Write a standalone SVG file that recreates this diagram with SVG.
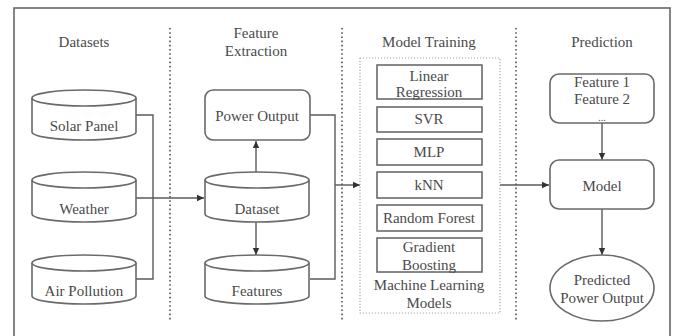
<svg xmlns="http://www.w3.org/2000/svg" width="675" height="336" viewBox="0 0 675 336">
<style>
.t{font-family:'Liberation Serif','DejaVu Serif','Times New Roman',serif;font-size:15px;fill:#4a4a4a;text-anchor:middle}
.s{fill:#fff;stroke:#6a6a6a;stroke-width:1.6}
.c{fill:none;stroke:#5a5a5a;stroke-width:1.4}
.sep{stroke:#777;stroke-width:2;stroke-dasharray:1.6 2.6;fill:none}
</style>
<defs>
<marker id="ah" markerWidth="8" markerHeight="8" refX="7" refY="4" orient="auto" markerUnits="userSpaceOnUse">
<path d="M0,0.8 L7,4 L0,7.2 Z" fill="#333"/>
</marker>
</defs>
<rect x="0" y="0" width="675" height="336" fill="#fff"/>
<rect x="14" y="8" width="656" height="340" fill="none" stroke="#666" stroke-width="1.6"/>
<g id="separators">
<line class="sep" x1="170" y1="28" x2="170" y2="322"/>
<line class="sep" x1="342" y1="28" x2="342" y2="322"/>
<line class="sep" x1="516" y1="28" x2="516" y2="322"/>
</g>
<g id="headings" font-family="Liberation Serif, serif">
<text class="t" x="84" y="47">Datasets</text>
<text class="t" x="256" y="38">Feature</text>
<text class="t" x="256" y="56">Extraction</text>
<text class="t" x="429" y="47">Model Training</text>
<text class="t" x="602" y="47">Prediction</text>
</g>
<g id="connectors">
<path class="c" d="M136,115 H153 V279 H136"/>
<path class="c" d="M136,198 H204" marker-end="url(#ah)"/>
<path class="c" d="M256,172 V141" marker-end="url(#ah)"/>
<path class="c" d="M256,222 V255" marker-end="url(#ah)"/>
<path class="c" d="M310,115 H335 V279 H310"/>
<path class="c" d="M335,185 H360" marker-end="url(#ah)"/>
<path class="c" d="M500,185 H549" marker-end="url(#ah)"/>
<path class="c" d="M602,123 V160" marker-end="url(#ah)"/>
<path class="c" d="M602,209 V255" marker-end="url(#ah)"/>
</g>
<g id="solar-panel">
<path class="s" d="M32,98 V132 A52,8 0 0 0 136,132 V98"/>
<ellipse class="s" cx="84" cy="98" rx="52" ry="8"/>
<text class="t" x="84" y="131">Solar Panel</text>
</g>
<g id="weather">
<path class="s" d="M32,180 V214 A52,8 0 0 0 136,214 V180"/>
<ellipse class="s" cx="84" cy="180" rx="52" ry="8"/>
<text class="t" x="84" y="214">Weather</text>
</g>
<g id="air-pollution">
<path class="s" d="M32,263 V296 A52,8 0 0 0 136,296 V263"/>
<ellipse class="s" cx="84" cy="263" rx="52" ry="8"/>
<text class="t" x="84" y="296">Air Pollution</text>
</g>
<g id="power-output">
<rect class="s" x="205" y="90" width="105" height="50" rx="8"/>
<text class="t" x="257" y="121">Power Output</text>
</g>
<g id="dataset">
<path class="s" d="M205,180 V214 A52,8 0 0 0 309,214 V180"/>
<ellipse class="s" cx="257" cy="180" rx="52" ry="8"/>
<text class="t" x="257" y="214">Dataset</text>
</g>
<g id="features">
<path class="s" d="M205,263 V296 A52,8 0 0 0 309,296 V263"/>
<ellipse class="s" cx="257" cy="263" rx="52" ry="8"/>
<text class="t" x="257" y="296">Features</text>
</g>
<g id="ml-models">
<rect x="360" y="58" width="140" height="255" fill="none" stroke="#aaa" stroke-width="1.2" stroke-dasharray="1.2 1.8"/>
<text class="t" x="429" y="290">Machine Learning</text>
<text class="t" x="429" y="308">Models</text>
</g>
<g id="linear-regression">
<rect class="s" x="377" y="65" width="105" height="34"/>
<text class="t" x="429" y="81">Linear</text>
<text class="t" x="429" y="97">Regression</text>
</g>
<g id="svr">
<rect class="s" x="377" y="107" width="105" height="25"/>
<text class="t" x="429" y="124">SVR</text>
</g>
<g id="mlp">
<rect class="s" x="377" y="139" width="105" height="26"/>
<text class="t" x="429" y="157">MLP</text>
</g>
<g id="knn">
<rect class="s" x="377" y="172" width="105" height="26"/>
<text class="t" x="429" y="190">kNN</text>
</g>
<g id="random-forest">
<rect class="s" x="377" y="205" width="105" height="26"/>
<text class="t" x="429" y="223">Random Forest</text>
</g>
<g id="gradient-boosting">
<rect class="s" x="377" y="238" width="105" height="34"/>
<text class="t" x="429" y="252">Gradient</text>
<text class="t" x="429" y="270">Boosting</text>
</g>
<g id="feature-input">
<rect class="s" x="550" y="74" width="104" height="49" rx="9"/>
<text class="t" x="602" y="87">Feature 1</text>
<text class="t" x="602" y="104">Feature 2</text>
<text class="t" x="602" y="121" style="font-size:10px">...</text>
</g>
<g id="model">
<rect class="s" x="550" y="160" width="104" height="49" rx="9"/>
<text class="t" x="602" y="191">Model</text>
</g>
<g id="predicted-output">
<ellipse class="s" cx="602" cy="288" rx="52" ry="33"/>
<text class="t" x="602" y="285">Predicted</text>
<text class="t" x="602" y="303">Power Output</text>
</g>
</svg>
